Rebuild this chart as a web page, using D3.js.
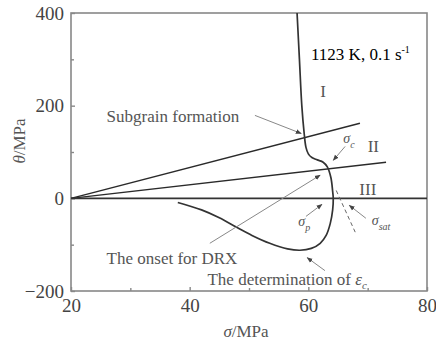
<!DOCTYPE html>
<html>
<head>
<meta charset="utf-8">
<script src="https://cdn.jsdelivr.net/npm/d3@7"></script>
<style>
  html, body { margin: 0; padding: 0; background: #fff; }
  svg text { font-family: "Liberation Serif", "DejaVu Serif", serif; }
</style>
</head>
<body>
<div id="chart"></div>
<script>
/* ---------- Data ---------- */
// theta-sigma curve, from the top of the frame down and round the loop
const curveSigma = [58.1, 58.5, 58.9, 59.3, 59.6, 60.0, 60.6, 61.5, 62.5, 63.2, 63.8, 64.1, 64.2, 64.1, 63.7, 63.0, 62.0, 60.5, 58.6, 56.5, 53.5, 50.5, 48.0, 45.0, 42.0, 38.0];
const curveTheta = [400, 300, 200, 140, 110, 96, 88, 83, 78, 68, 45, 15, 0, -25, -54, -80, -97, -108, -112, -109, -97, -80, -63, -42, -25, -9];

// straight lines from (20, 0)
const lineNames = ["upper", "lower", "zero"];
const lineEnds = [[68.7, 162], [73.1, 78], [80, 0]];
const origin = [20, 0];

// dashed extrapolation to sigma_sat
const dashLine = [[64.7, 17], [67.9, -73]];

const xTicks = [20, 40, 60, 80];
const xMinor = [30, 50, 70];
const yTicks = [400, 200, 0, -200];
const yMinor = [300, 100, -100];

// pointer arrows: [from, to] in data units
const arrows = [
  [[51.0, 179], [58.8, 140]],   // subgrain formation
  [[66.2, 112], [64.2, 82]],    // sigma_c
  [[43.4, -97], [62.0, 50]],    // onset for DRX
  [[59.6, -39], [62.3, -13]],   // sigma_p
  [[69.7, -43], [66.9, -15]],   // sigma_sat
  [[62.8, -156], [59.8, -128]]  // epsilon_c
];

const notes = [
  { text: "Subgrain formation", at: [26.0, 165] },
  { text: "The onset for DRX", at: [26.0, -142] },
  { text: "The determination of ", at: [43.0, -187], sub: "c", sym: "ε" },
  { text: "I", at: [62.0, 218] },
  { text: "II", at: [70.0, 100] },
  { text: "III", at: [68.6, 7] }
];

const symbols = [
  { sym: "σ", sub: "c", at: [65.9, 120] },
  { sym: "σ", sub: "p", at: [58.3, -60] },
  { sym: "σ", sub: "sat", at: [70.7, -58] }
];

/* ---------- Chart ---------- */
const W = 436, H = 344;
const M = { top: 13, right: 9, bottom: 53, left: 71 };

const svg = d3.select("#chart").append("svg")
  .attr("width", W).attr("height", H);

const x = d3.scaleLinear().domain([20, 80]).range([M.left, W - M.right]);
const y = d3.scaleLinear().domain([-200, 400]).range([H - M.bottom, M.top]);

// arrowhead
svg.append("defs").append("marker")
  .attr("id", "head")
  .attr("viewBox", "0 0 10 10")
  .attr("refX", 9).attr("refY", 5)
  .attr("markerWidth", 6).attr("markerHeight", 6)
  .attr("orient", "auto")
  .append("path").attr("d", "M0,1 L10,5 L0,9 z").attr("fill", "#444");

// frame
svg.append("rect")
  .attr("x", x(20)).attr("y", y(400))
  .attr("width", x(80) - x(20)).attr("height", y(-200) - y(400))
  .attr("fill", "none").attr("stroke", "#888").attr("stroke-width", 1.6);

// axes (ticks inward)
const axisX = d3.axisBottom(x).tickValues(xTicks).tickSize(-4).tickPadding(8);
const axisY = d3.axisLeft(y).tickValues(yTicks).tickSize(-4).tickPadding(7);

const gx = svg.append("g").attr("transform", `translate(0,${y(-200)})`).call(axisX);
svg.append("g").attr("transform", `translate(0,${y(-200)})`)
  .call(d3.axisBottom(x).tickValues(xMinor).tickSize(-3).tickFormat(""));

const gy = svg.append("g").attr("transform", `translate(${x(20)},0)`).call(axisY);
svg.append("g").attr("transform", `translate(${x(20)},0)`)
  .call(d3.axisLeft(y).tickValues(yMinor).tickSize(-3).tickFormat(""));

svg.selectAll(".domain").remove();
svg.selectAll(".tick line").attr("stroke", "#888").attr("stroke-width", 1.4);
gx.selectAll("text").attr("font-size", 19).attr("fill", "#444")
  .attr("font-family", "Liberation Serif");
gy.selectAll("text").attr("font-size", 19).attr("fill", "#444")
  .attr("font-family", "Liberation Serif").attr("dy", "0.33em");

// axis titles
svg.append("text")
  .attr("x", 246).attr("y", 337).attr("text-anchor", "middle")
  .attr("font-size", 17).attr("fill", "#555")
  .html('<tspan font-style="italic">σ</tspan>/MPa');

svg.append("text")
  .attr("transform", `translate(25,141) rotate(-90)`).attr("text-anchor", "middle")
  .attr("font-size", 17).attr("fill", "#555")
  .html('<tspan font-style="italic">θ</tspan>/MPa');

// straight lines
svg.append("g").selectAll("line")
  .data(lineEnds)
  .join("line")
    .attr("x1", x(origin[0])).attr("y1", y(origin[1]))
    .attr("x2", d => x(d[0])).attr("y2", d => y(d[1]))
    .attr("stroke", (d, i) => lineNames[i] === "zero" ? "#333" : "#2a2a2a")
    .attr("stroke-width", (d, i) => lineNames[i] === "zero" ? 1.6 : 1.4);

// dashed extrapolation
svg.append("path")
  .attr("d", d3.line().x(d => x(d[0])).y(d => y(d[1]))(dashLine))
  .attr("fill", "none").attr("stroke", "#666").attr("stroke-width", 1)
  .attr("stroke-dasharray", "4,3");

// the curve
const curveData = curveSigma.map((s, i) => [s, curveTheta[i]]);
svg.append("path")
  .attr("d", d3.line().x(d => x(d[0])).y(d => y(d[1])).curve(d3.curveCatmullRom.alpha(0.5))(curveData))
  .attr("fill", "none").attr("stroke", "#333").attr("stroke-width", 1.7);

// pointer arrows
svg.append("g").selectAll("line")
  .data(arrows)
  .join("line")
    .attr("x1", d => x(d[0][0])).attr("y1", d => y(d[0][1]))
    .attr("x2", d => x(d[1][0])).attr("y2", d => y(d[1][1]))
    .attr("stroke", "#888").attr("stroke-width", 1)
    .attr("marker-end", "url(#head)");

// annotation text
svg.append("g").selectAll("text")
  .data(notes)
  .join("text")
    .attr("x", d => x(d.at[0])).attr("y", d => y(d.at[1]))
    .attr("font-size", 17).attr("fill", "#555")
    .each(function(d) {
      const t = d3.select(this);
      t.append("tspan").text(d.text);
      if (d.sym) {
        t.append("tspan").attr("font-style", "italic").text(d.sym);
        t.append("tspan").attr("font-size", 11).attr("dy", 4).attr("font-style", "italic").text(d.sub);
      }
    });

svg.append("g").selectAll("text")
  .data(symbols)
  .join("text")
    .attr("x", d => x(d.at[0])).attr("y", d => y(d.at[1]))
    .attr("font-size", 14).attr("fill", "#555").attr("font-style", "italic")
    .each(function(d) {
      const t = d3.select(this);
      t.append("tspan").text(d.sym);
      t.append("tspan").attr("font-size", 10).attr("dy", 5).text(d.sub);
    });

// condition label
svg.append("text")
  .attr("x", 311).attr("y", 60)
  .attr("font-size", 17).attr("fill", "#000")
  .html('1123 K, 0.1 s<tspan font-size="10" dy="-7">-1</tspan>');
</script>
</body>
</html>
